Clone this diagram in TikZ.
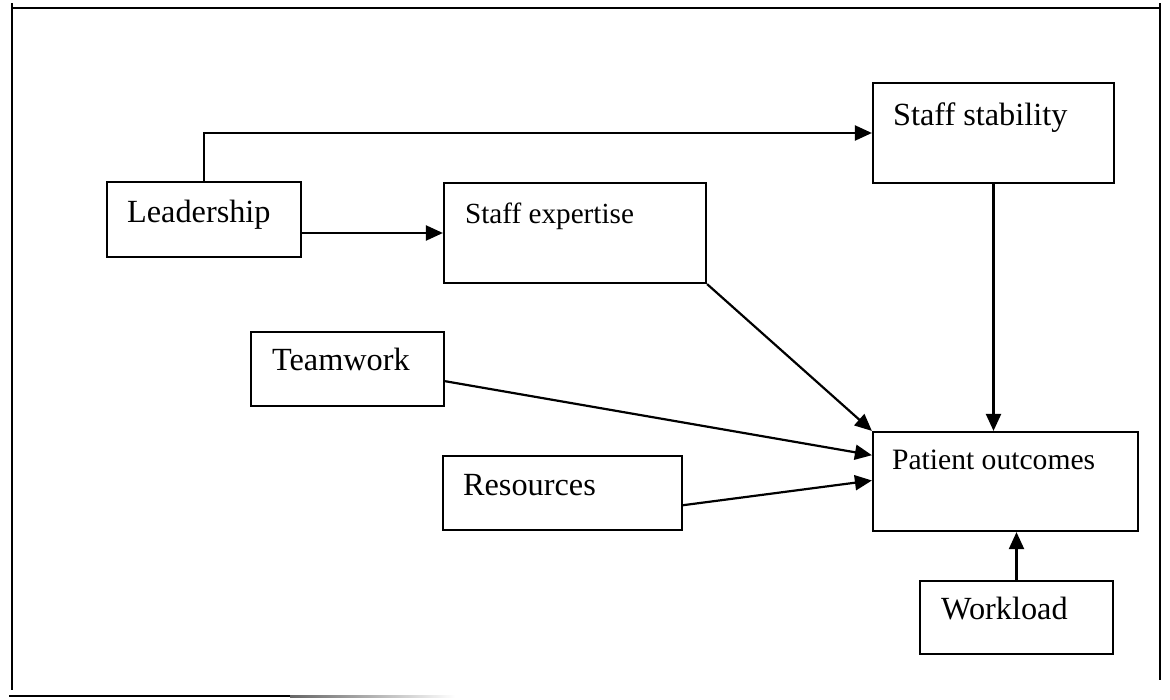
\documentclass[tikz,border=0pt]{standalone}
\usepackage{fontspec}
\setmainfont{Liberation Serif}
\usetikzlibrary{arrows.meta,calc}
\tikzset{
  box/.style={draw=black, line width=2.2pt, rectangle, inner sep=0pt},
  lbl/.style={anchor=base west, inner sep=0pt, font=\fontsize{32.3}{38}\selectfont},
  smalllbl/.style={anchor=base west, inner sep=0pt, font=\fontsize{29.2}{34}\selectfont},
  patlbl/.style={anchor=base west, inner sep=0pt, font=\fontsize{29.6}{35}\selectfont},
  arr/.style={line width=2.2pt, draw=black, -{Triangle[length=17pt,width=15pt]}},
  frameline/.style={line width=2.4pt, draw=black}
}
\begin{document}
\begin{tikzpicture}[x=1pt,y=-1pt]
\useasboundingbox (0,0) rectangle (1170,699);
% frame
\draw[frameline] (13,8) -- (1160,8);
\draw[frameline] (12,3) -- (12,690);
\draw[frameline] (1160,3) -- (1160,680);
\draw[frameline] (9,696) -- (290,696);
\shade[left color=black!60, right color=white] (290,695) rectangle (455,697.5);
% boxes
\node[box, minimum width=194pt, minimum height=75pt] (lead) at (204,219.5) {};
\node[box, minimum width=262pt, minimum height=100pt] (exp) at (575,233) {};
\node[box, minimum width=241pt, minimum height=100pt] (stab) at (993.5,133) {};
\node[box, minimum width=193pt, minimum height=74pt] (tw) at (347.5,369) {};
\node[box, minimum width=265pt, minimum height=99pt] (pat) at (1005.5,481.5) {};
\node[box, minimum width=239pt, minimum height=74pt] (res) at (562.5,493) {};
\node[box, minimum width=193pt, minimum height=73pt] (work) at (1016.5,617.5) {};
% labels
\node[lbl] (leadT) at ($(lead.north west)+(21,42)$) {Leadership};
\node[smalllbl] (expT) at ($(exp.north west)+(22,42)$) {Staff expertise};
\node[lbl] (stabT) at ($(stab.north west)+(21,44)$) {Staff stability};
\node[lbl] (twT) at ($(tw.north west)+(22,40)$) {Teamwork};
\node[patlbl] (patT) at ($(pat.north west)+(20,39)$) {Patient outcomes};
\node[lbl] (resT) at ($(res.north west)+(21,41)$) {Resources};
\node[lbl] (workT) at ($(work.north west)+(22,40)$) {Workload};
% connectors
\draw[arr] (lead.east |- exp.west) -- (exp.west);
\draw[arr] (lead.north) |- (stab.west);
\draw[arr] (stab.south) -- (stab.south |- pat.north);
\draw[arr] (work.north) -- (work.north |- pat.south);
\draw[arr] (exp.south east) -- (pat.north west);
\draw[arr] ($(tw.south east)!0.34!(tw.north east)$) -- ($(pat.north west)!0.24!(pat.south west)$);
\draw[arr] ($(res.south east)!0.34!(res.north east)$) -- ($(pat.north west)!0.49!(pat.south west)$);
\end{tikzpicture}
\end{document}
